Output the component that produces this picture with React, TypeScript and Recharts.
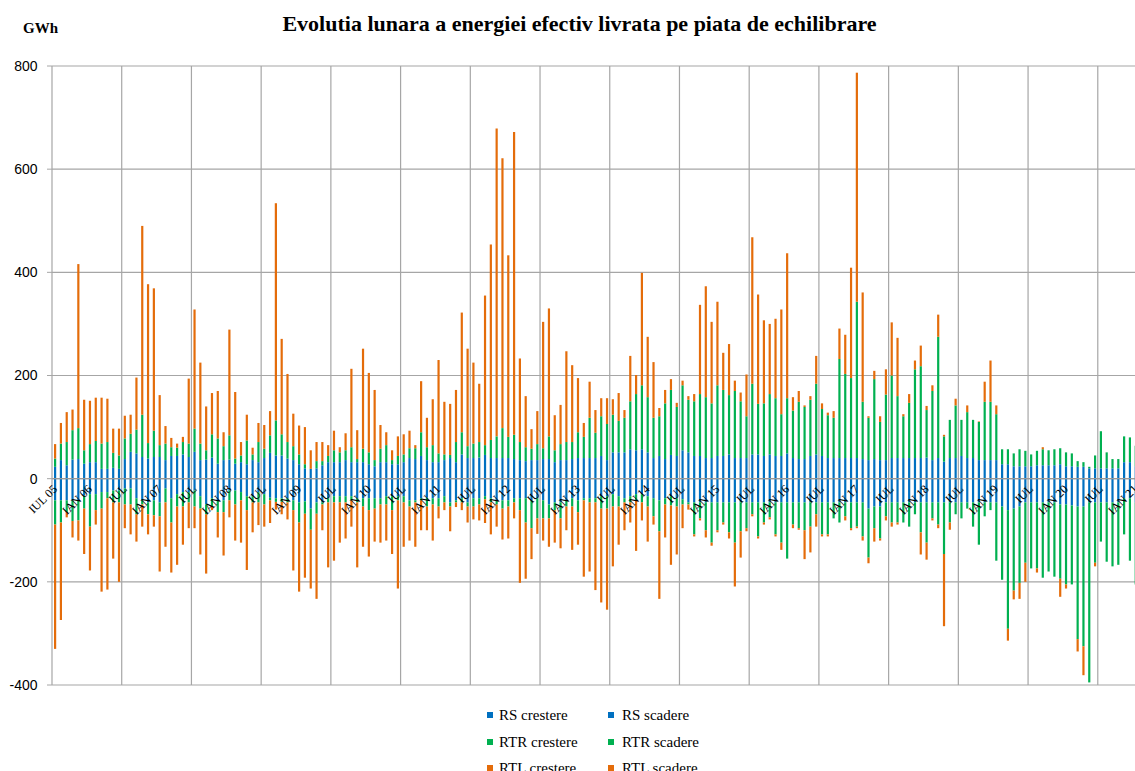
import React from 'react';
import { BarChart, Bar, XAxis, YAxis, CartesianGrid, ReferenceLine } from 'recharts';

// Monthly values, Jul 2005 .. Jan 2021 (GWh)
const rsUp = [
  23, 36, 26, 37, 38, 29, 32, 32, 19, 19, 21, 19,
  38, 52, 49, 42, 39, 42, 42, 36, 44, 44, 47, 42,
  52, 36, 37, 41, 29, 36, 37, 29, 32, 28, 36, 32,
  40, 50, 45, 45, 39, 36, 28, 20, 19, 20, 26, 32,
  32, 32, 36, 32, 32, 32, 28, 24, 32, 32, 28, 28,
  32, 40, 38, 44, 36, 32, 32, 36, 40, 32, 47, 40,
  40, 41, 46, 40, 40, 40, 40, 38, 36, 34, 36, 36,
  38, 38, 32, 36, 36, 38, 40, 40, 40, 40, 44, 36,
  51, 51, 51, 57, 55, 57, 51, 40, 44, 38, 46, 44,
  55, 51, 44, 44, 40, 40, 44, 44, 47, 40, 40, 40,
  47, 47, 44, 47, 44, 44, 49, 40, 38, 38, 44, 47,
  44, 40, 40, 40, 40, 40, 40, 38, 36, 38, 36, 36,
  40, 40, 40, 40, 40, 40, 41, 36, 40, 33, 40, 40,
  44, 40, 40, 36, 36, 36, 36, 28, 28, 24, 24, 24,
  24, 26, 26, 26, 26, 28, 24, 24, 23, 23, 20, 20,
  20, 20, 20, 20, 32, 32, 24,
];
const rtrUp = [
  16, 32, 45, 57, 60, 26, 35, 41, 49, 52, 29, 26,
  40, 35, 46, 82, 30, 51, 23, 32, 17, 16, 24, 26,
  45, 32, 18, 45, 49, 27, 47, 10, 13, 46, 11, 39,
  18, 34, 68, 41, 32, 27, 19, 8, 0, 14, 8, 12,
  23, 19, 19, 29, 6, 26, 23, 12, 26, 33, 8, 16,
  15, 19, 21, 46, 25, 33, 17, 11, 6, 39, 43, 23,
  28, 30, 19, 35, 42, 58, 41, 47, 35, 27, 22, 31,
  21, 44, 23, 31, 35, 33, 50, 41, 78, 49, 77, 70,
  73, 61, 67, 93, 109, 124, 107, 78, 77, 108, 126, 95,
  126, 102, 106, 120, 118, 106, 137, 128, 115, 130, 110, 81,
  137, 98, 102, 117, 112, 81, 107, 92, 111, 101, 109, 137,
  91, 83, 78, 192, 163, 155, 303, 111, 82, 155, 74, 127,
  160, 120, 81, 107, 172, 178, 92, 134, 235, 49, 74, 102,
  70, 89, 74, 74, 113, 113, 89, 29, 29, 25, 33, 30,
  23, 28, 31, 29, 31, 31, 27, 25, 11, 9, 3, 25,
  72, 31, 18, 18, 50, 48, 40,
];
const rtlUp = [
  28, 40, 58, 40, 318, 98, 84, 84, 89, 84, 47, 52,
  44, 37, 101, 366, 308, 276, 97, 34, 18, 8, 10, 126,
  231, 157, 85, 80, 92, 27, 205, 129, 26, 50, 13, 37,
  46, 47, 421, 185, 132, 63, 56, 72, 36, 37, 37, 21,
  38, 10, 33, 152, 56, 194, 154, 136, 46, 25, 19, 38,
  39, 34, 6, 99, 57, 89, 181, 102, 99, 101, 232, 189,
  157, 113, 290, 379, 597, 523, 352, 587, 162, 99, 38, 64,
  245, 248, 68, 76, 176, 149, 105, 27, 70, 44, 35, 50,
  30, 54, 15, 88, 37, 218, 117, 108, 16, 26, 21, 8,
  9, 7, 14, 173, 215, 158, 162, 72, 99, 20, 17, 81,
  284, 212, 161, 136, 154, 203, 281, 26, 21, 3, 7, 54,
  11, 5, 13, 59, 76, 214, 444, 212, 3, 16, 11, 49,
  103, 113, 4, 17, 17, 40, 8, 11, 43, 3, 0, 13,
  0, 13, 0, 1, 39, 80, 17, 0, 0, 0, 0, 0,
  0, 0, 4, 0, 0, 0, 0, 0, 0, 0, 0, 0,
  0, 0, 0, 0, 0, 0, 0,
];
const rsDn = [
  -42, -42, -42, -42, -42, -33, -30, -30, -26, -26, -23, -23,
  -19, -19, -38, -42, -46, -42, -46, -19, -38, -30, -26, -26,
  -23, -34, -50, -38, -42, -42, -23, -23, -26, -34, -34, -26,
  -30, -37, -38, -38, -38, -42, -46, -44, -58, -46, -46, -38,
  -34, -34, -34, -34, -38, -38, -38, -38, -38, -34, -34, -34,
  -34, -42, -42, -38, -37, -38, -38, -34, -46, -42, -38, -46,
  -38, -38, -34, -38, -42, -42, -42, -38, -38, -38, -42, -38,
  -42, -50, -46, -46, -42, -38, -42, -38, -38, -38, -34, -34,
  -30, -34, -38, -34, -30, -30, -34, -38, -42, -38, -34, -38,
  -40, -46, -46, -46, -46, -46, -46, -46, -46, -46, -46, -46,
  -46, -46, -46, -46, -46, -46, -46, -46, -46, -46, -46, -46,
  -46, -46, -46, -46, -46, -46, -46, -46, -58, -54, -54, -46,
  -46, -46, -46, -46, -46, -46, -46, -46, -46, -46, -46, -46,
  -46, -46, -46, -46, -46, -46, -46, -54, -61, -58, -54, -46,
  -46, -46, -46, -46, -46, -50, -50, -52, -54, -54, -46, -46,
  -46, -46, -46, -46, -38, -38, -46,
];
const rtrDn = [
  -47, -43, -23, -40, -39, -25, -63, -31, -32, -12, -23, -23,
  -31, -31, -31, -8, -23, -29, -27, -27, -47, -24, -28, -20,
  -31, -24, -19, -16, -23, -23, -19, -27, -16, -27, -12, -20,
  -20, -5, -7, -7, -8, -19, -39, -24, -41, -22, -4, -8,
  -12, -12, -12, -8, -8, -16, -23, -20, -12, -16, -27, -8,
  -12, -12, -4, -4, -17, -12, -16, -12, -8, -4, -8, -8,
  -16, -12, -6, -8, -8, -16, -12, -8, -23, -47, -54, -39,
  -35, -27, -15, -31, -12, -16, -23, -4, -8, -8, -24, -24,
  -24, -20, -8, -12, -12, -16, -20, -35, -60, -12, -18, -16,
  -10, -4, -62, -31, -54, -78, -54, -39, -58, -78, -56, -50,
  -23, -66, -39, -29, -62, -78, -109, -43, -50, -54, -47, -23,
  -62, -62, -31, -39, -27, -50, -47, -66, -95, -42, -62, -27,
  -39, -39, -39, -47, -23, -58, -78, -31, -43, -100, -39, -23,
  -31, -12, -47, -82, -27, -15, -113, -142, -230, -159, -148, -117,
  -128, -128, -146, -134, -144, -144, -155, -153, -257, -271, -349, -117,
  -76, -115, -124, -121, -70, -121, -159,
];
const rtlDn = [
  -241, -189, -10, -32, -39, -88, -85, -28, -161, -177, -109, -154,
  -46, -58, -53, -43, -39, -22, -107, -86, -97, -113, -74, -50,
  -42, -89, -115, -7, -49, -84, -33, -70, -82, -116, -58, -44,
  -43, -44, -15, -24, -33, -117, -134, -124, -114, -165, -50, -126,
  -113, -78, -70, -51, -126, -78, -90, -64, -74, -70, -85, -171,
  -86, -66, -86, -58, -46, -70, -23, -15, -48, -9, -15, -31,
  -25, -31, -46, -62, -43, -60, -62, -31, -141, -109, -60, -30,
  -43, -55, -63, -58, -46, -84, -63, -148, -134, -170, -182, -196,
  -116, -74, -54, -39, -98, -35, -68, -16, -131, -64, -115, -93,
  -46, -10, -4, -4, -14, -6, -4, -4, -12, -85, -51, -6,
  -4, -4, -4, -4, -4, -14, 0, -7, -3, -56, -50, -24,
  -4, -4, 0, 0, -8, -4, -3, -8, -11, -26, -4, -8,
  -8, -4, 0, 0, 0, -43, -33, -4, -7, -140, -14, 0,
  0, 0, 0, 0, 0, 0, 0, 0, -23, -17, -31, -37,
  0, -8, 0, 0, 0, -35, -8, 0, -24, -56, 0, -7,
  0, 0, 0, 0, 0, 0, 0,
];

// Axis labels every 6 months, starting at Jul 2005
const tickLabels = [
  'IUL 05', 'IAN 06', 'IUL', 'IAN 07', 'IUL', 'IAN 08', 'IUL', 'IAN 09',
  'IUL', 'IAN 10', 'IUL', 'IAN 11', 'IUL', 'IAN 12', 'IUL', 'IAN 13',
  'IUL', 'IAN 14', 'IUL', 'IAN 15', 'IUL', 'IAN 16', 'IUL', 'IAN 17',
  'IUL', 'IAN 18', 'IUL', 'IAN 19', 'IUL', 'IAN 20', 'IUL', 'IAN 21',
];
const yTicks = [-400, -200, 0, 200, 400, 600, 800];

const MONTH_SLOTS = 192; // Jul 2005 .. Jun 2021 axis extent
const Y_MIN = -400;
const Y_MAX = 800;

const BLUE = '#0070C0';
const GREEN = '#00B050';
const ORANGE = '#E46C0A';

const series = [
  { key: 'rsUp', name: 'RS crestere', color: BLUE },
  { key: 'rsDn', name: 'RS scadere', color: BLUE },
  { key: 'rtrUp', name: 'RTR crestere', color: GREEN },
  { key: 'rtrDn', name: 'RTR scadere', color: GREEN },
  { key: 'rtlUp', name: 'RTL crestere', color: ORANGE },
  { key: 'rtlDn', name: 'RTL scadere', color: ORANGE },
];

const rows = rsUp.map((v, i) => ({
  idx: i,
  rsUp: v,
  rtrUp: rtrUp[i],
  rtlUp: rtlUp[i],
  rsDn: rsDn[i],
  rtrDn: rtrDn[i],
  rtlDn: rtlDn[i],
}));

const tickIdx = tickLabels.map((_, i) => i * 6);
const yearBounds: number[] = [];
for (let k = 1; k * 12 < MONTH_SLOTS; k++) yearBounds.push(k * 12 - 0.5);

// layout
const CHART_W = 1200;
const CHART_H = 700;
const M_TOP = 66;
const X_AXIS_H = 15;
const Y_AXIS_W = 52;
const M_RIGHT = 32.5;
const PLOT_H = CHART_H - M_TOP - X_AXIS_H;
const ZERO_Y = M_TOP + (PLOT_H * (Y_MAX - 0)) / (Y_MAX - Y_MIN);

const SERIF = '"Liberation Serif", "Times New Roman", serif';
const SANS = '"Liberation Sans", Arial, sans-serif';

const XTick = (props: any) => {
  const { x, payload } = props;
  const label = tickLabels[Math.round(payload.value / 6)];
  const tx = x + 3;
  const ty = ZERO_Y + 11;
  return (
    <text
      x={tx}
      y={ty}
      transform={`rotate(-45, ${tx}, ${ty})`}
      textAnchor="end"
      fontFamily={SERIF}
      fontSize={12}
      fill="#000"
    >
      {label}
    </text>
  );
};

const legendItems = [
  { name: 'RS crestere', color: BLUE, col: 0, row: 0 },
  { name: 'RS scadere', color: BLUE, col: 1, row: 0 },
  { name: 'RTR crestere', color: GREEN, col: 0, row: 1 },
  { name: 'RTR scadere', color: GREEN, col: 1, row: 1 },
  { name: 'RTL crestere', color: ORANGE, col: 0, row: 2 },
  { name: 'RTL scadere', color: ORANGE, col: 1, row: 2 },
];

export default function App() {
  return (
    <div
      style={{
        position: 'fixed',
        left: 0,
        top: 0,
        width: 1135,
        height: 771,
        overflow: 'hidden',
        background: '#fff',
      }}
    >
      <div style={{ position: 'absolute', left: 0, top: 0 }}>
        <BarChart
          width={CHART_W}
          height={CHART_H}
          data={rows}
          stackOffset="sign"
          barSize={2.2}
          margin={{ top: M_TOP, right: M_RIGHT, bottom: 0, left: 0 }}
        >
          <CartesianGrid vertical={false} stroke="#a6a6a6" strokeWidth={1.2} />
          {yearBounds.map((b) => (
            <ReferenceLine key={b} x={b} stroke="#a6a6a6" strokeWidth={1.2} />
          ))}
          <XAxis
            dataKey="idx"
            type="number"
            domain={[-0.5, MONTH_SLOTS - 0.5]}
            ticks={tickIdx}
            interval={0}
            tick={<XTick />}
            tickLine={false}
            axisLine={false}
            height={X_AXIS_H}
          />
          <YAxis
            type="number"
            domain={[Y_MIN, Y_MAX]}
            ticks={yTicks}
            width={Y_AXIS_W}
            tickSize={5}
            tickMargin={9.5}
            tickLine={{ stroke: '#a6a6a6' }}
            axisLine={{ stroke: '#a6a6a6', strokeWidth: 1.2 }}
            tick={{ fontFamily: SANS, fontSize: 14, fill: '#000' }}
          />
          {series.map((s) => (
            <Bar
              key={s.key}
              dataKey={s.key}
              name={s.name}
              stackId="s"
              fill={s.color}
              isAnimationActive={false}
            />
          ))}
          <ReferenceLine y={0} stroke="#9a9a9a" strokeWidth={1.4} />
        </BarChart>
      </div>

      <div
        style={{
          position: 'absolute',
          left: 0,
          top: 11,
          width: 1159,
          textAlign: 'center',
          fontFamily: SERIF,
          fontWeight: 'bold',
          fontSize: 22,
          lineHeight: '26px',
          color: '#000',
          whiteSpace: 'nowrap',
        }}
      >
        Evolutia lunara a energiei efectiv livrata pe piata de echilibrare
      </div>
      <div
        style={{
          position: 'absolute',
          left: 23,
          top: 19,
          fontFamily: SERIF,
          fontWeight: 'bold',
          fontSize: 15,
          lineHeight: '18px',
          color: '#000',
        }}
      >
        GWh
      </div>

      {legendItems.map((it) => {
        const baseTop = 706 + it.row * 26.6;
        const markerLeft = it.col === 0 ? 487 : 608;
        const textLeft = it.col === 0 ? 499 : 622;
        return (
          <React.Fragment key={it.name}>
            <div
              style={{
                position: 'absolute',
                left: markerLeft,
                top: baseTop + 6,
                width: 6,
                height: 6,
                background: it.color,
              }}
            />
            <div
              style={{
                position: 'absolute',
                left: textLeft,
                top: baseTop,
                fontFamily: SERIF,
                fontSize: 15,
                lineHeight: '18px',
                color: '#000',
                whiteSpace: 'nowrap',
              }}
            >
              {it.name}
            </div>
          </React.Fragment>
        );
      })}
    </div>
  );
}
